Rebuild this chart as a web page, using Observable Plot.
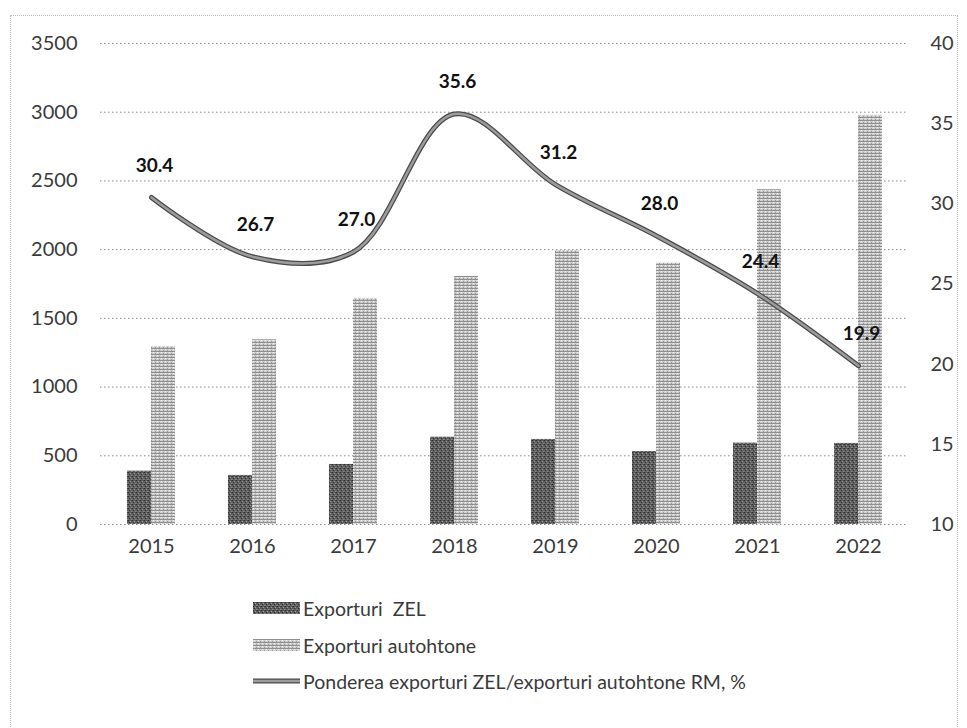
<!DOCTYPE html>
<html>
<head>
<meta charset="utf-8">
<script src="https://cdn.jsdelivr.net/npm/d3@7"></script>
<script src="https://cdn.jsdelivr.net/npm/@observablehq/plot@0.6"></script>
<style>
  html, body { margin: 0; padding: 0; background: #fff; }
  body { width: 967px; height: 728px; position: relative; overflow: hidden; font-family: Lato, "Open Sans", sans-serif; }
  #frame { position: absolute; left: 10px; top: 15px; width: 948px; height: 720px; border: 1px dotted #b8b8b8; box-sizing: border-box; }
  #chart { position: absolute; left: 0; top: 0; }
  .leg { position: absolute; left: 253px; height: 20px; display: flex; align-items: center; font-size: 19.5px; color: #3a3a3a; white-space: pre; }
  .leg svg { margin-right: 3px; }
</style>
</head>
<body>
<div id="frame"></div>
<div id="chart"></div>
<div class="leg" style="top:598px"><svg width="47" height="12"><rect width="47" height="12" fill="url(#patZel)"/></svg>Exporturi  ZEL</div>
<div class="leg" style="top:635px"><svg width="47" height="12"><rect width="47" height="12" fill="url(#patAut)"/></svg>Exporturi autohtone</div>
<div class="leg" style="top:671px"><svg width="47" height="12"><line x1="0" x2="47" y1="6" y2="6" stroke="#4a4a4a" stroke-width="5"/><line x1="0" x2="47" y1="6" y2="6" stroke="#9c9c9c" stroke-width="2.5"/></svg>Ponderea exporturi ZEL/exporturi autohtone RM, %</div>
<script>
const years = ["2015", "2016", "2017", "2018", "2019", "2020", "2021", "2022"];
const exportZEL = [388, 357, 437, 635, 619, 531, 592, 590];
const exportAutohtone = [1295, 1344, 1645, 1805, 1994, 1902, 2436, 2977];
const ponderea = [30.4, 26.7, 27.0, 35.6, 31.2, 28.0, 24.4, 19.9];
const leftTicks = [0, 500, 1000, 1500, 2000, 2500, 3000, 3500];
const rightTicks = [10, 15, 20, 25, 30, 35, 40];

const leftMax = 3500, rightMin = 10, rightMax = 40;
const toLeft = v => (v - rightMin) / (rightMax - rightMin) * leftMax;
const fromLeft = v => v / leftMax * (rightMax - rightMin) + rightMin;

const rows = years.map((y, i) => ({year: y, zel: exportZEL[i], aut: exportAutohtone[i], share: ponderea[i], shareL: toLeft(ponderea[i])}));

const chart = Plot.plot({
  width: 967,
  height: 570,
  marginTop: 43,
  marginBottom: 46,
  marginLeft: 100,
  marginRight: 59,
  style: {fontFamily: "Lato, 'Open Sans', sans-serif", fontSize: "20px", color: "#3a3a3a", background: "transparent"},
  x: {domain: years, paddingInner: 0.525, paddingOuter: 0.2625},
  y: {domain: [0, leftMax]},
  marks: [
    Plot.gridY(leftTicks, {stroke: "#8a8a8a", strokeOpacity: 1, strokeDasharray: "1.5,2.5", strokeWidth: 1}),
    Plot.barY(rows, {x: "year", y: "zel", fill: "url(#patZel)", insetRight: 24}),
    Plot.barY(rows, {x: "year", y: "aut", fill: "url(#patAut)", insetLeft: 24}),
    Plot.line(rows, {x: "year", y: "shareL", curve: "catmull-rom", stroke: "#4a4a4a", strokeWidth: 5}),
    Plot.line(rows, {x: "year", y: "shareL", curve: "catmull-rom", stroke: "#9c9c9c", strokeWidth: 2.5}),
    Plot.text(rows, {x: "year", y: "shareL", text: d => d.share.toFixed(1), dy: -32, dx: 3, fontSize: 19, fontWeight: "bold", fill: "#111"}),
    Plot.axisY({ticks: leftTicks, tickSize: 0, tickPadding: 23, label: null, tickFormat: d => String(d)}),
    Plot.axisY({anchor: "right", ticks: rightTicks.map(toLeft), tickSize: 0, tickPadding: 22, label: null, tickFormat: d => String(Math.round(fromLeft(d)))}),
    Plot.axisX({tickSize: 0, tickPadding: 14, label: null})
  ]
});

const ns = "http://www.w3.org/2000/svg";
const defs = document.createElementNS(ns, "defs");
defs.innerHTML = `
  <pattern id="patZel" patternUnits="userSpaceOnUse" width="4" height="4">
    <rect width="4" height="4" fill="#5e5e5e"/>
    <rect x="0" y="0" width="1" height="1" fill="#2a2a2a"/>
    <rect x="2" y="1" width="1" height="1" fill="#9a9a9a"/>
    <rect x="1" y="2" width="1" height="1" fill="#333"/>
    <rect x="3" y="3" width="1" height="1" fill="#8c8c8c"/>
    <rect x="3" y="0" width="1" height="1" fill="#444"/>
    <rect x="0" y="3" width="1" height="1" fill="#7a7a7a"/>
  </pattern>
  <pattern id="patAut" patternUnits="userSpaceOnUse" width="4" height="3">
    <rect width="4" height="3" fill="#cfcfcf"/>
    <rect x="0" y="0" width="4" height="1" fill="#8e8e8e"/>
    <rect x="1" y="1" width="1" height="1" fill="#f2f2f2"/>
    <rect x="3" y="2" width="1" height="1" fill="#9a9a9a"/>
  </pattern>`;
chart.insertBefore(defs, chart.firstChild);
document.getElementById("chart").appendChild(chart);
</script>
</body>
</html>
